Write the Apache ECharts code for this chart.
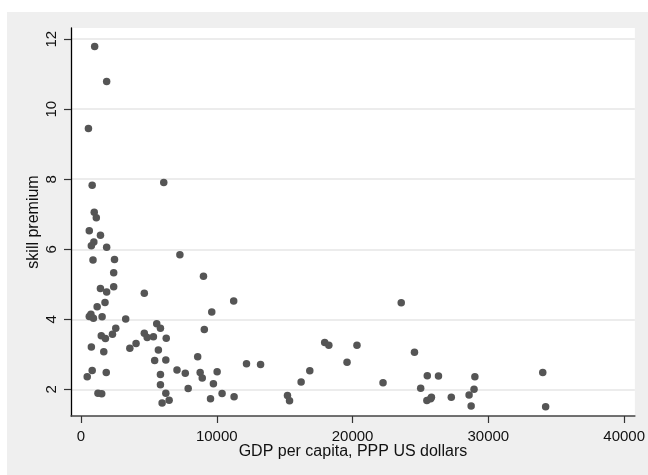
<!DOCTYPE html>
<html>
<head>
<meta charset="utf-8">
<script src="https://cdn.jsdelivr.net/npm/echarts@6/dist/echarts.min.js"></script>
<style>
html,body{margin:0;padding:0;background:#ffffff;}
#bg{position:absolute;left:7px;top:12px;width:641px;height:463px;background:#efefef;}
#chart{position:absolute;left:0;top:0;width:648px;height:475px;}
</style>
</head>
<body>
<div id="bg"></div>
<div id="chart"></div>
<script>
// GDP per capita (PPP US dollars)
const gdp = [1005,1889,548,823,6094,975,1127,609,1432,945,762,1889,884,2468,7282,2407,9019,1432,2407,1889,
  4662,1767,1188,11243,23584,9629,609,731,914,1554,3291,2559,5576,5850,9080,1493,1798,2316,4662,4875,
  5332,6277,4053,3595,5698,762,1676,17947,18251,20323,24559,8593,5424,6246,12188,13224,19592,823,1859,7069,
  7678,8775,8928,10025,16850,5850,457,25503,26326,29007,34005,16210,22243,5850,9750,7892,25016,28946,28581,1249,
  1524,6246,10390,11274,9537,15205,15357,5972,6490,25473,25747,25808,27271,28733,34218];
// skill premium
const premium = [11.79,10.79,9.45,7.83,7.91,7.06,6.90,6.53,6.40,6.21,6.10,6.06,5.69,5.71,5.84,5.33,5.23,4.88,4.93,4.78,
  4.74,4.48,4.36,4.52,4.47,4.21,4.08,4.14,4.03,4.07,4.01,3.74,3.87,3.74,3.71,3.53,3.45,3.57,3.60,3.48,
  3.50,3.46,3.31,3.17,3.12,3.21,3.07,3.34,3.26,3.26,3.06,2.93,2.82,2.84,2.73,2.71,2.77,2.54,2.48,2.55,
  2.46,2.48,2.32,2.50,2.53,2.42,2.36,2.39,2.38,2.36,2.48,2.21,2.19,2.13,2.16,2.02,2.03,2.00,1.84,1.89,
  1.87,1.89,1.88,1.79,1.73,1.82,1.67,1.61,1.69,1.68,1.73,1.77,1.77,1.52,1.50];
const xTicks = [0,10000,20000,30000,40000];
const yTicks = [2,4,6,8,10,12];
const xTitle = 'GDP per capita, PPP US dollars';
const yTitle = 'skill premium';

const points = gdp.map((g,i)=>[g, premium[i]]);
const font = '"Liberation Sans", Arial, Helvetica, sans-serif';

const chart = echarts.init(document.getElementById('chart'), null, {renderer:'canvas'});
chart.setOption({
  animation:false,
  grid:{left:71,right:13,top:28,bottom:59,show:true,backgroundColor:'#ffffff',borderWidth:0,containLabel:false},
  xAxis:{
    type:'value', min:-737, max:40790,
    name:xTitle, nameLocation:'middle', nameGap:28, nameMoveOverlap:false,
    nameTextStyle:{fontFamily:font,fontSize:16,color:'#111',verticalAlign:'top'},
    axisLine:{show:true,onZero:false,lineStyle:{color:'#444',width:1.5}},
    axisTick:{show:true,inside:false,length:7,customValues:xTicks,lineStyle:{color:'#333',width:1.2}},
    axisLabel:{show:true,customValues:xTicks,margin:13,fontFamily:font,fontSize:15,color:'#111',formatter:v=>String(v)},
    splitLine:{show:false}
  },
  yAxis:{
    type:'value', min:1.237, max:12.32,
    name:yTitle, nameLocation:'middle', nameGap:29, nameRotate:90, nameMoveOverlap:false,
    nameTextStyle:{fontFamily:font,fontSize:16,color:'#111'},
    axisLine:{show:true,onZero:false,lineStyle:{color:'#000',width:1.3}},
    axisTick:{show:true,inside:false,length:7,customValues:yTicks,lineStyle:{color:'#333',width:1.2}},
    axisLabel:{show:true,customValues:yTicks,rotate:90,margin:12,fontFamily:font,fontSize:15,color:'#111',formatter:v=>String(v)},
    splitLine:{show:true,lineStyle:{color:'#e6e6e6',width:1.5}}
  },
  series:[{
    type:'scatter',
    data:points,
    symbol:'circle',
    symbolSize:7.5,
    itemStyle:{color:'#555555',opacity:1},
    emphasis:{disabled:true}
  }]
});
</script>
</body>
</html>
